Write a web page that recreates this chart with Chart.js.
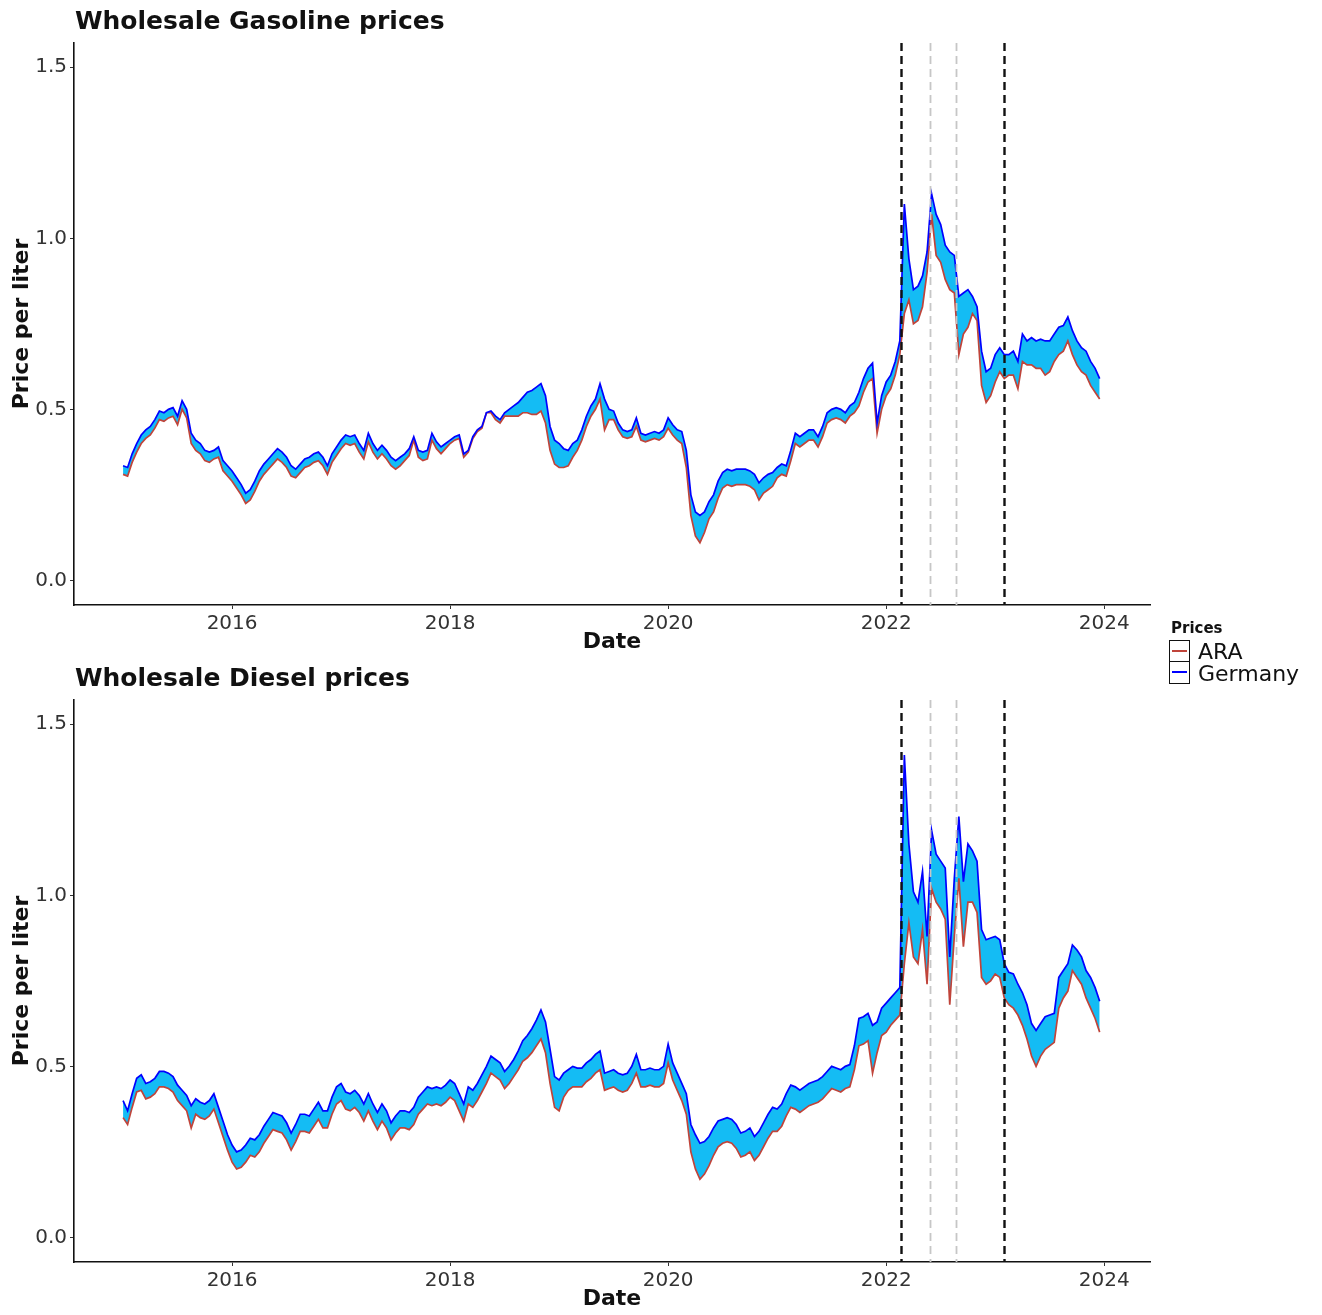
<!DOCTYPE html>
<html>
<head>
<meta charset="utf-8">
<title>Wholesale Gasoline and Diesel prices</title>
<script src="https://cdn.jsdelivr.net/npm/chart.js@4.4.1/dist/chart.umd.min.js"></script>
<style>
  body { margin: 0; background: #fff; font-family: "DejaVu Sans", sans-serif; }
  #wrap { position: relative; width: 1322px; height: 1315px; }
  canvas { position: absolute; left: 0; }
  #gas { top: 0; }
  #diesel { top: 657px; }
  #legend { position: absolute; left: 1169px; top: 616px; color: #111; z-index: 2; }
  #legend .lt { font-weight: bold; font-size: 15px; height: 24px; line-height: 24px; margin-left: 2px; }
  #legend .row { display: flex; align-items: center; height: 22px; font-size: 22px; }
  #legend .key { position: relative; width: 19px; height: 20px; border: 1.5px solid #111; margin-right: 8px; }
  #legend .row + .row .key { border-top: none; height: 21.5px; }
  #legend .key i { position: absolute; left: 2px; right: 2px; top: 9px; height: 2px; }
</style>
</head>
<body>
<div id="wrap">
  <canvas id="gas" width="1322" height="657"></canvas>
  <canvas id="diesel" width="1322" height="657"></canvas>
  <div id="legend">
    <div class="lt">Prices</div>
    <div class="row"><span class="key"><i style="background:#c0443a"></i></span>ARA</div>
    <div class="row"><span class="key"><i style="background:#0000ff"></i></span>Germany</div>
  </div>
</div>

<script>
// half-monthly readings, 24 per year, Jan 2015 - Dec 2023 (EUR per liter)
const startYear = 2015;
const stepsPerYear = 24;

const gasGermany = [
  0.335,0.33,0.37,0.40,0.425,0.44,0.45,0.47,0.495,0.49,0.50,0.505,0.48,0.525,0.50,0.43,0.41,0.40,0.38,0.375,0.38,0.39,0.35,0.335,
  0.32,0.30,0.28,0.255,0.265,0.29,0.32,0.34,0.355,0.37,0.385,0.375,0.36,0.335,0.325,0.34,0.355,0.36,0.37,0.375,0.36,0.335,0.37,0.39,
  0.41,0.425,0.42,0.425,0.40,0.38,0.43,0.40,0.38,0.395,0.38,0.36,0.35,0.36,0.37,0.385,0.42,0.38,0.375,0.38,0.43,0.405,0.39,0.40,
  0.41,0.42,0.425,0.37,0.38,0.42,0.44,0.45,0.49,0.495,0.48,0.47,0.49,0.50,0.51,0.52,0.535,0.55,0.555,0.565,0.575,0.54,0.45,0.41,
  0.40,0.385,0.38,0.40,0.41,0.44,0.48,0.51,0.53,0.575,0.53,0.50,0.495,0.46,0.44,0.435,0.44,0.475,0.43,0.425,0.43,0.435,0.43,0.44,
  0.475,0.455,0.44,0.435,0.38,0.25,0.20,0.19,0.20,0.23,0.25,0.29,0.315,0.325,0.32,0.325,0.325,0.325,0.32,0.31,0.285,0.30,0.31,0.315,
  0.33,0.34,0.335,0.38,0.43,0.42,0.43,0.44,0.44,0.42,0.45,0.49,0.50,0.505,0.50,0.49,0.51,0.52,0.55,0.59,0.62,0.635,0.46,0.54,
  0.58,0.60,0.64,0.70,1.10,0.94,0.85,0.86,0.89,0.96,1.13,1.07,1.04,0.98,0.96,0.95,0.83,0.84,0.85,0.83,0.80,0.67,0.61,0.62,
  0.66,0.68,0.66,0.66,0.67,0.64,0.72,0.70,0.71,0.70,0.705,0.70,0.70,0.72,0.74,0.745,0.77,0.73,0.70,0.68,0.67,0.64,0.62,0.59
];
const gasARA = [
  0.31,0.305,0.345,0.375,0.40,0.415,0.425,0.445,0.47,0.465,0.475,0.48,0.455,0.50,0.475,0.40,0.38,0.37,0.35,0.345,0.355,0.36,0.32,0.305,
  0.29,0.27,0.25,0.225,0.235,0.26,0.29,0.31,0.325,0.34,0.355,0.345,0.33,0.305,0.30,0.315,0.33,0.335,0.345,0.35,0.335,0.31,0.345,0.365,
  0.385,0.40,0.395,0.40,0.375,0.355,0.405,0.375,0.355,0.37,0.355,0.335,0.325,0.335,0.35,0.365,0.41,0.36,0.35,0.355,0.41,0.385,0.37,0.385,
  0.40,0.41,0.415,0.36,0.375,0.415,0.435,0.445,0.49,0.49,0.47,0.46,0.48,0.48,0.48,0.48,0.49,0.49,0.485,0.485,0.495,0.46,0.38,0.34,
  0.33,0.33,0.335,0.36,0.38,0.41,0.45,0.48,0.50,0.53,0.44,0.47,0.47,0.44,0.42,0.415,0.42,0.45,0.41,0.405,0.41,0.415,0.41,0.42,
  0.445,0.425,0.41,0.40,0.33,0.19,0.13,0.11,0.14,0.18,0.20,0.24,0.27,0.28,0.275,0.28,0.28,0.28,0.275,0.265,0.235,0.255,0.265,0.275,
  0.30,0.31,0.305,0.35,0.40,0.39,0.40,0.41,0.41,0.39,0.42,0.46,0.47,0.475,0.47,0.46,0.48,0.49,0.51,0.55,0.58,0.59,0.43,0.50,
  0.54,0.56,0.60,0.66,0.78,0.82,0.75,0.76,0.80,0.90,1.07,0.95,0.93,0.88,0.85,0.84,0.66,0.72,0.74,0.78,0.76,0.57,0.52,0.54,
  0.58,0.61,0.59,0.60,0.60,0.56,0.64,0.63,0.63,0.62,0.62,0.60,0.61,0.64,0.66,0.67,0.70,0.66,0.63,0.61,0.60,0.57,0.55,0.53
];
const dieselGermany = [
  0.40,0.37,0.42,0.465,0.475,0.45,0.455,0.465,0.485,0.485,0.48,0.47,0.445,0.43,0.415,0.385,0.405,0.395,0.39,0.40,0.42,0.38,0.34,0.30,
  0.27,0.25,0.255,0.27,0.29,0.285,0.30,0.325,0.345,0.365,0.36,0.355,0.335,0.305,0.33,0.36,0.36,0.355,0.375,0.395,0.37,0.37,0.41,0.44,
  0.45,0.425,0.42,0.43,0.415,0.39,0.42,0.39,0.365,0.39,0.37,0.335,0.355,0.37,0.37,0.365,0.38,0.41,0.425,0.44,0.435,0.44,0.435,0.445,
  0.46,0.45,0.42,0.39,0.44,0.43,0.45,0.475,0.50,0.53,0.52,0.51,0.485,0.50,0.52,0.545,0.575,0.59,0.61,0.635,0.665,0.63,0.55,0.47,
  0.46,0.48,0.49,0.50,0.495,0.495,0.51,0.52,0.535,0.545,0.48,0.485,0.49,0.48,0.475,0.48,0.50,0.535,0.49,0.49,0.495,0.49,0.49,0.50,
  0.565,0.51,0.48,0.45,0.42,0.33,0.30,0.275,0.28,0.295,0.32,0.34,0.345,0.35,0.345,0.33,0.305,0.31,0.32,0.295,0.31,0.335,0.36,0.38,
  0.375,0.39,0.42,0.445,0.44,0.43,0.44,0.45,0.455,0.46,0.47,0.485,0.50,0.495,0.49,0.50,0.505,0.56,0.64,0.645,0.655,0.62,0.63,0.67,
  0.685,0.70,0.715,0.73,1.41,1.15,1.01,0.98,1.07,0.88,1.19,1.12,1.10,1.08,0.82,1.05,1.23,1.04,1.15,1.13,1.10,0.90,0.87,0.875,
  0.88,0.87,0.80,0.775,0.77,0.74,0.715,0.68,0.625,0.605,0.625,0.645,0.65,0.655,0.76,0.78,0.80,0.855,0.84,0.82,0.78,0.76,0.73,0.69
];
const dieselARA = [
  0.35,0.33,0.38,0.425,0.43,0.405,0.41,0.42,0.44,0.44,0.435,0.425,0.40,0.385,0.37,0.32,0.36,0.35,0.345,0.355,0.375,0.335,0.295,0.255,
  0.22,0.20,0.205,0.22,0.24,0.235,0.25,0.275,0.295,0.315,0.31,0.305,0.285,0.255,0.28,0.31,0.31,0.305,0.325,0.345,0.32,0.32,0.36,0.39,
  0.40,0.375,0.37,0.38,0.365,0.34,0.37,0.34,0.315,0.34,0.32,0.285,0.305,0.32,0.32,0.315,0.33,0.36,0.375,0.39,0.385,0.39,0.385,0.395,
  0.41,0.40,0.37,0.34,0.39,0.38,0.40,0.425,0.45,0.48,0.47,0.46,0.435,0.45,0.47,0.49,0.515,0.525,0.54,0.56,0.58,0.54,0.45,0.38,
  0.37,0.41,0.43,0.44,0.44,0.44,0.455,0.465,0.48,0.49,0.43,0.435,0.44,0.43,0.425,0.43,0.45,0.48,0.44,0.44,0.445,0.44,0.44,0.45,
  0.51,0.46,0.43,0.40,0.36,0.25,0.20,0.17,0.185,0.21,0.24,0.265,0.275,0.28,0.275,0.26,0.235,0.24,0.25,0.225,0.24,0.265,0.29,0.31,
  0.31,0.325,0.355,0.38,0.375,0.365,0.375,0.385,0.39,0.395,0.405,0.42,0.435,0.43,0.425,0.435,0.44,0.49,0.56,0.565,0.575,0.48,0.54,0.59,
  0.60,0.62,0.635,0.65,0.80,0.92,0.82,0.80,0.90,0.74,1.02,0.98,0.96,0.93,0.68,0.88,1.05,0.85,0.98,0.98,0.95,0.76,0.74,0.75,
  0.77,0.76,0.70,0.68,0.67,0.65,0.62,0.58,0.53,0.50,0.53,0.55,0.56,0.57,0.67,0.70,0.72,0.78,0.76,0.74,0.70,0.67,0.64,0.60
];

const xTicks = [2016, 2018, 2020, 2022, 2024];
const yTicks = [0, 0.5, 1.0, 1.5];
// war start / tax cut start / tax cut end / product embargo
const majorEvents = [2022.135, 2023.08];
const minorEvents = [2022.40, 2022.645];

const FONT = '"DejaVu Sans", sans-serif';
const CYAN = '#14bcf4';
Chart.defaults.font.family = FONT;

function toPoints(values){
  return values.map((v, i) => ({ x: startYear + i / stepsPerYear, y: v }));
}

const eventLines = {
  id: 'eventLines',
  afterDatasetsDraw(chart){
    const { ctx, chartArea, scales } = chart;
    const draw = (list, color, width) => {
      ctx.strokeStyle = color;
      ctx.lineWidth = width;
      list.forEach((d) => {
        const px = Math.round(scales.x.getPixelForValue(d)) + 0.5;
        ctx.beginPath();
        ctx.moveTo(px, chartArea.top);
        ctx.lineTo(px, chartArea.bottom);
        ctx.stroke();
      });
    };
    ctx.save();
    ctx.setLineDash([8, 5]);
    draw(minorEvents, '#c6c6c6', 1.8);
    draw(majorEvents, '#111', 2.4);
    ctx.restore();
  }
};

const panelTitle = {
  id: 'panelTitle',
  afterDraw(chart, args, opts){
    const ctx = chart.ctx;
    ctx.save();
    ctx.font = 'bold 25px ' + FONT;
    ctx.fillStyle = '#111';
    ctx.textBaseline = 'middle';
    ctx.fillText(opts.text, chart.chartArea.left + 1, 22);
    ctx.restore();
  }
};

function initChart(target, title, germany, ara){
  return new Chart(target, {
    type: 'line',
    data: {
      datasets: [
        { label: 'Germany', data: toPoints(germany), borderColor: '#0000ff', borderWidth: 1.7,
          pointRadius: 0, fill: false },
        { label: 'ARA', data: toPoints(ara), borderColor: '#c0443a', borderWidth: 1.7,
          pointRadius: 0, backgroundColor: CYAN, fill: { target: '-1', above: CYAN, below: CYAN } }
      ]
    },
    options: {
      responsive: false,
      animation: false,
      layout: { padding: { top: 43, right: 172, bottom: 0, left: 0 } },
      plugins: {
        legend: { display: false },
        tooltip: { enabled: false },
        filler: { drawTime: 'beforeDatasetsDraw' },
        panelTitle: { text: title }
      },
      scales: {
        x: {
          type: 'linear', min: 2014.55, max: 2024.42,
          afterBuildTicks: (s) => { s.ticks = xTicks.map((v) => ({ value: v })); },
          afterFit: (s) => { s.height = 52; },
          grid: { drawOnChartArea: false, tickLength: 4, color: '#333' },
          border: { color: '#111', width: 1.6 },
          ticks: { font: { size: 20 }, color: '#333', padding: 3, maxRotation: 0, autoSkip: false,
                   callback: (v) => String(v) },
          title: { display: true, text: 'Date', color: '#111',
                   font: { size: 22, weight: 'bold' }, padding: { top: 0, bottom: 2 } }
        },
        y: {
          min: -0.072, max: 1.571,
          afterBuildTicks: (s) => { s.ticks = yTicks.map((v) => ({ value: v })); },
          afterFit: (s) => { s.width = 74; },
          grid: { drawOnChartArea: false, tickLength: 4, color: '#333' },
          border: { color: '#111', width: 1.6 },
          ticks: { font: { size: 20 }, color: '#333', padding: 3, callback: (v) => v.toFixed(1) },
          title: { display: true, text: 'Price per liter', color: '#111',
                   font: { size: 22, weight: 'bold' }, padding: { top: 9, bottom: 0 } }
        }
      }
    },
    plugins: [eventLines, panelTitle]
  });
}

document.addEventListener('DOMContentLoaded', () => {
  initChart(document.querySelector('#gas'), 'Wholesale Gasoline prices', gasGermany, gasARA);
  initChart(document.querySelector('#diesel'), 'Wholesale Diesel prices', dieselGermany, dieselARA);
});
</script>
</body>
</html>
